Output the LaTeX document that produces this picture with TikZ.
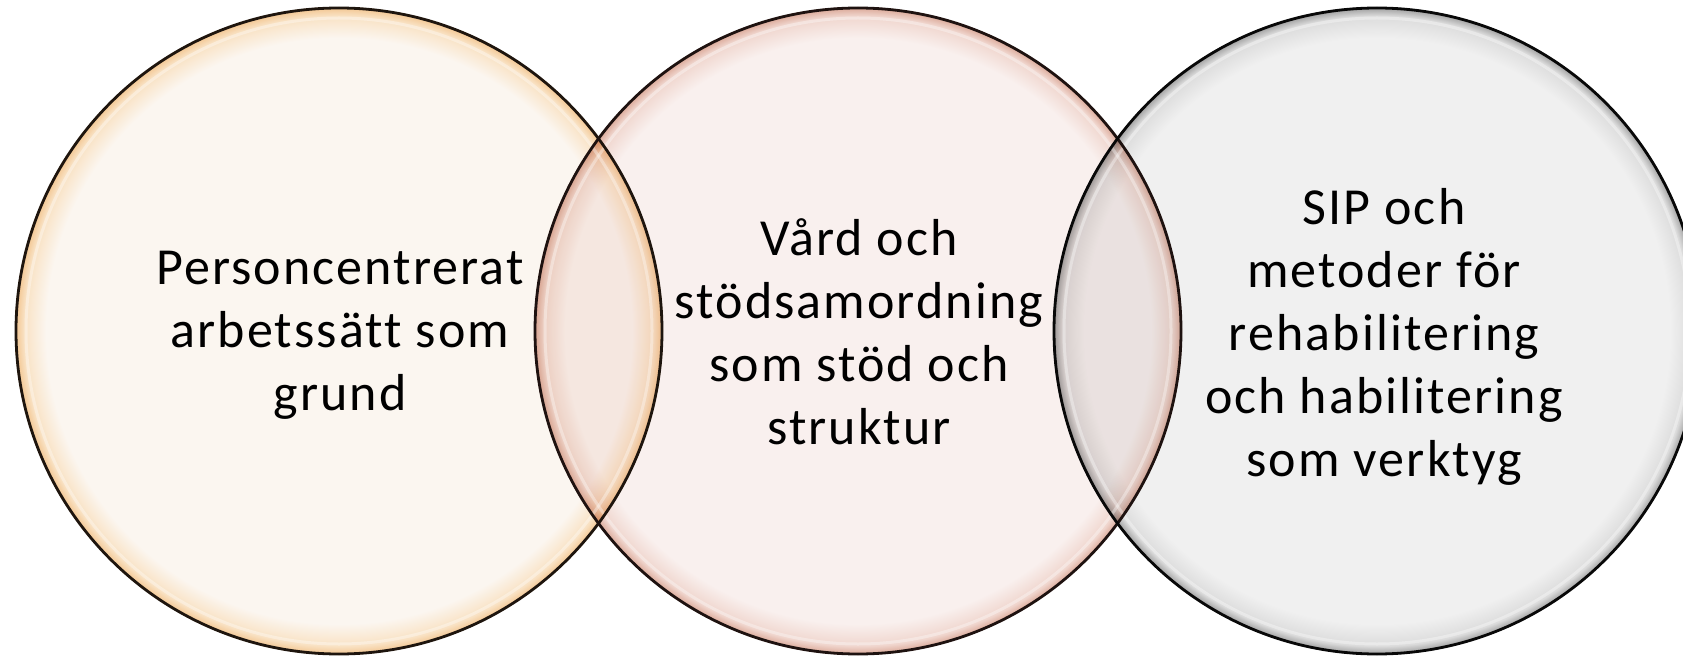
\documentclass[tikz,border=0pt]{standalone}
\usepackage{fontspec}
\newfontfamily\lblfont{Carlito}[LetterSpace=4.0, Ligatures=NoCommon]
\definecolor{inA}{HTML}{FBF6F0}
\definecolor{midA}{HTML}{F9E2C4}
\definecolor{edgeA}{HTML}{F2C48E}
\definecolor{inB}{HTML}{F9F0EE}
\definecolor{midB}{HTML}{F0D6CE}
\definecolor{edgeB}{HTML}{D9A594}
\definecolor{inC}{HTML}{F0F0F0}
\definecolor{midC}{HTML}{DCDCDC}
\definecolor{edgeC}{HTML}{9A9A9A}
\definecolor{outA}{HTML}{1E150E}
\definecolor{outB}{HTML}{1E1210}
\definecolor{outC}{HTML}{080808}
\pgfdeclareradialshading{rimA}{\pgfpoint{0bp}{0bp}}{color(0bp)=(inA); color(22.6bp)=(inA); color(24.3bp)=(midA); color(25bp)=(edgeA); color(50bp)=(edgeA)}
\pgfdeclareradialshading{rimB}{\pgfpoint{0bp}{0bp}}{color(0bp)=(inB); color(22.6bp)=(inB); color(24.3bp)=(midB); color(25bp)=(edgeB); color(50bp)=(edgeB)}
\pgfdeclareradialshading{rimC}{\pgfpoint{0bp}{0bp}}{color(0bp)=(inC); color(22.6bp)=(inC); color(24.3bp)=(midC); color(25bp)=(edgeC); color(50bp)=(edgeC)}
\tikzset{
  ring/.style={circle, minimum size=648pt, inner sep=0pt, outer sep=0pt},
  lbl/.style={align=center, text=black, inner sep=0pt, font=\lblfont\fontsize{52}{63}\selectfont},
  gloss/.style={white, opacity=0.35, line width=3pt},
  rim/.style={line width=2.8pt},
}
\begin{document}
\begin{tikzpicture}[x=1pt,y=1pt]
\useasboundingbox (0,0) rectangle (1683,657);
\fill[white] (0,0) rectangle (1683,657);
\begin{scope}[blend group=multiply]
  \node[ring, shading=rimA] (c1) at (339,326) {};
  \node[ring, shading=rimB] (c2) at (858,326) {};
  \node[ring, shading=rimC] (c3) at (1377,326) {};
\end{scope}
\draw[gloss] (c1.center) circle[radius=313];
\draw[gloss] (c2.center) circle[radius=313];
\draw[gloss] (c3.center) circle[radius=313];
\draw[rim, outA] (c1.center) circle[radius=323];
\draw[rim, outB] (c2.center) circle[radius=323];
\draw[rim, outC] (c3.center) circle[radius=323];
\node[lbl] (t1) at (340,322) {Personcentrerat\\arbetssätt som\\grund};
\node[lbl] (t2) at (859,325) {Vård och\\stödsamordning\\som stöd och\\struktur};
\node[lbl] (t3) at (1384,320) {SIP och\\metoder för\\rehabilitering\\och habilitering\\som verktyg};
\end{tikzpicture}
\end{document}
